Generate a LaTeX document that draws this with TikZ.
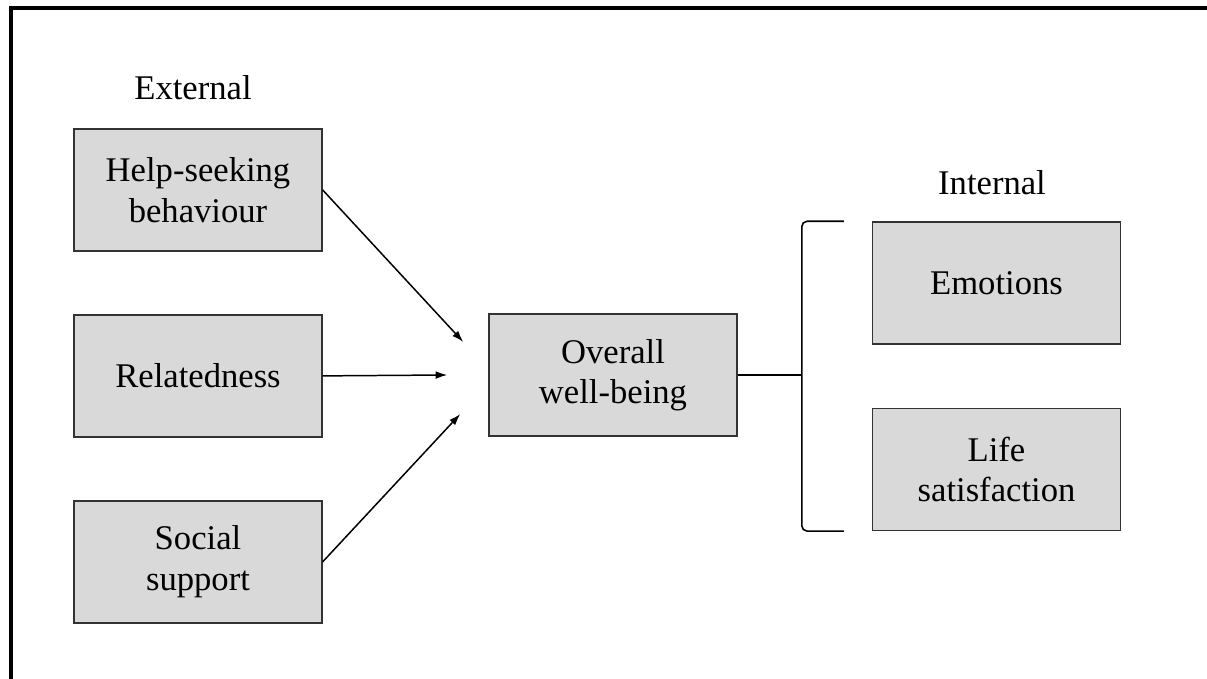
\documentclass[tikz,border=0pt]{standalone}
\usepackage{fontspec}
\setmainfont{Liberation Serif}
\usetikzlibrary{arrows.meta, positioning}

\begin{document}
\begin{tikzpicture}[node distance=1.25cm,>={Latex[length=6.6pt,width=4.4pt]}]
 \tikzstyle{factorbox}=[rectangle,draw=black!80,line width=0.8pt,fill=black!15,
   minimum width=4.96cm,minimum height=2.44cm,text centered,text width=4.5cm,
   font=\fontsize{19.7}{23}\selectfont]
 \tikzstyle{grouplabel}=[font=\fontsize{19.7}{23}\selectfont]
 \useasboundingbox (0,0) rectangle (24.14,13.58);
 % frame
 \draw[line width=1.9pt] (0.22,0) -- (0.22,13.42) -- (24.14,13.42);
 % external factors
 \node (external) [grouplabel] at (3.86,11.82) {External};
 \node (help) [factorbox] at (3.96,9.78) {Help-seeking\\behaviour};
 \node (related) [factorbox,below=of help] {Relatedness};
 \node (social) [factorbox,below=of related] {Social\\support};
 \node (overall) [factorbox] at (12.26,6.08) {Overall\\well-being};
 % internal factors
 \node (internal) [grouplabel] at (19.84,9.92) {Internal};
 \node (emotions) [factorbox] at (19.93,7.92) {Emotions};
 \node (life) [factorbox,below=1.26cm of emotions] {Life\\satisfaction};
 \coordinate (tiphelp) at ([xshift=-0.5cm,yshift=0.66cm]overall.west);
 \coordinate (tiprel) at ([xshift=-0.82cm]overall.west);
 \coordinate (tipsoc) at ([xshift=-0.56cm,yshift=-0.78cm]overall.west);
 \draw[->,line width=0.85pt] (help.east) -- (tiphelp);
 \draw[->,line width=0.85pt] (related.east) -- (tiprel);
 \draw[->,line width=0.85pt] (social.east) -- (tipsoc);
 % bracket
 \coordinate (brtop) at ([xshift=-1.4cm]emotions.north west);
 \coordinate (brbot) at ([xshift=-1.4cm]life.south west);
 \draw[line width=0.9pt,rounded corners=3pt] ([xshift=-0.56cm]emotions.north west)
   -- (brtop) -- (brbot) -- ([xshift=-0.56cm]life.south west);
 \draw[line width=0.85pt] (overall.east) -- (overall.east -| brtop);
\end{tikzpicture}
\end{document}
